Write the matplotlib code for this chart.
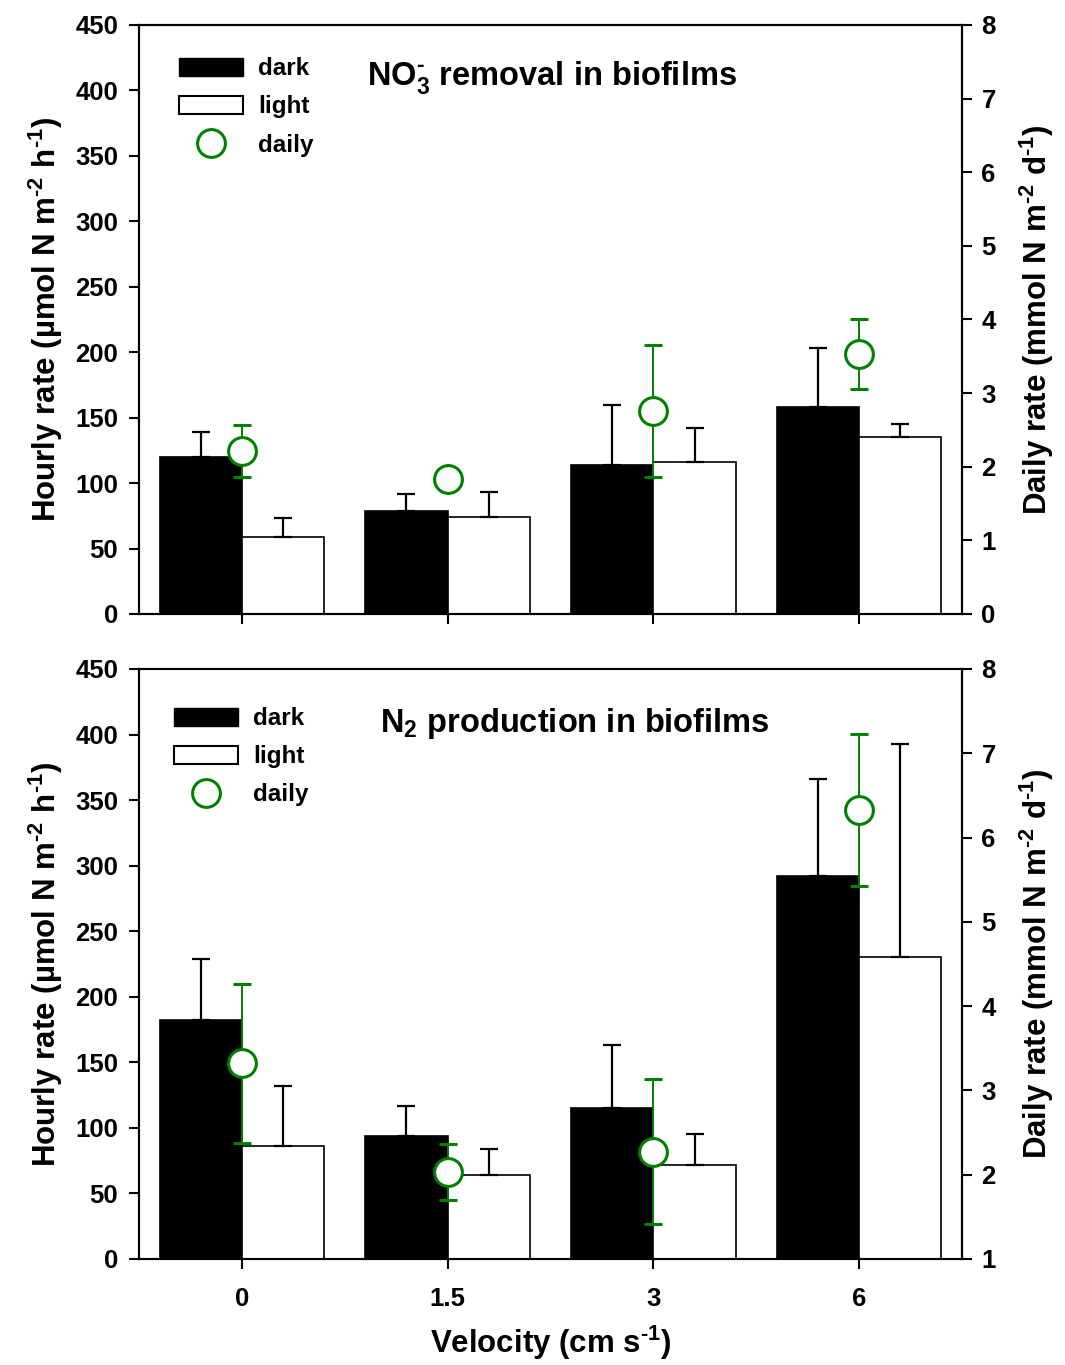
import matplotlib
matplotlib.use("Agg")
import matplotlib.pyplot as plt
import numpy as np
from matplotlib.patches import Patch
from matplotlib.lines import Line2D

plt.rcParams['font.family'] = ['Liberation Sans', 'DejaVu Sans']
plt.rcParams['font.weight'] = 'bold'
plt.rcParams['mathtext.fontset'] = 'custom'
plt.rcParams['mathtext.rm'] = 'Liberation Sans:bold'
plt.rcParams['mathtext.bf'] = 'Liberation Sans:bold'
plt.rcParams['mathtext.it'] = 'Liberation Sans:bold'
plt.rcParams['mathtext.default'] = 'rm'

velocity_labels = ['0', '1.5', '3', '6']

# NO3- removal
no3_dark = [120, 79, 114, 158]
no3_dark_err = [19, 13, 46, 45]
no3_light = [59, 74, 116, 135]
no3_light_err = [14, 19.5, 26, 10.5]
no3_daily = [2.21, 1.84, 2.76, 3.53]
no3_daily_err = [0.35, 0.12, 0.9, 0.47]

# N2 production
n2_dark = [182, 94, 115, 292]
n2_dark_err = [47, 23, 48, 74]
n2_light = [86, 64, 72, 230]
n2_light_err = [46, 20, 23.5, 163]
n2_daily = [3.32, 2.03, 2.27, 6.33]
n2_daily_err = [0.94, 0.33, 0.86, 0.9]

fig = plt.figure(figsize=(10.65, 13.65), dpi=100)
green = '#008000'
x = np.arange(len(velocity_labels))
w = 0.4
TICK = 18.5
LAB = 22.5
LEG = 17.5

def panel(rect, dark, dark_err, light, light_err, daily, daily_err, title, daily_lim, daily_ticks, show_x, legend_anchor, title_pos):
    ax = fig.add_axes(rect)
    ekw = dict(elinewidth=1.6, capthick=1.6, ecolor='black')
    ax.bar(x - w/2, dark, w, color='black', edgecolor='black', linewidth=1.2,
           yerr=[np.zeros(len(dark)), dark_err], capsize=6.5, error_kw=ekw, zorder=2)
    ax.bar(x + w/2, light, w, color='white', edgecolor='black', linewidth=1.2,
           yerr=[np.zeros(len(light)), light_err], capsize=6.5, error_kw=ekw, zorder=2)
    ax.set_xlim(-0.5, 3.5)
    ax.set_ylim(0, 450)
    ax.set_yticks(np.arange(0, 451, 50))
    ax.set_xticks(x)
    if show_x:
        ax.set_xticklabels(velocity_labels)
        ax.set_xlabel('Velocity (cm s$^{\\text{-1}}$)', fontsize=LAB, fontweight='bold', labelpad=9)
    else:
        ax.set_xticklabels([])
    ax.set_ylabel('Hourly rate (µmol N m$^{\\text{-2}}$ h$^{\\text{-1}}$)', fontsize=LAB,
                  fontweight='bold', labelpad=7)
    ax.tick_params(axis='y', direction='out', length=7, width=1.5, labelsize=TICK, pad=8)
    ax.tick_params(axis='x', direction='out', length=7, width=1.5, labelsize=TICK, pad=13)
    for s in ax.spines.values():
        s.set_linewidth(1.5)

    ax2 = ax.twinx()
    ax2.errorbar(x, daily, yerr=daily_err, fmt='o', ms=20, mfc='white', mec=green, mew=2.2,
                 ecolor=green, elinewidth=1.4, capsize=6.5, capthick=1.4, zorder=5)
    ax2.set_ylim(*daily_lim)
    ax2.set_yticks(daily_ticks)
    ax2.set_ylabel('Daily rate (mmol N m$^{\\text{-2}}$ d$^{\\text{-1}}$)', fontsize=LAB,
                   fontweight='bold', labelpad=16)
    ax2.tick_params(axis='y', direction='out', length=7, width=1.5, labelsize=TICK, pad=7)
    for s in ax2.spines.values():
        s.set_linewidth(1.5)

    handles = [Patch(facecolor='black', edgecolor='black'),
               Patch(facecolor='white', edgecolor='black', linewidth=1.5),
               Line2D([], [], ls='none', marker='o', ms=20, mfc='white', mec=green, mew=2.2)]
    ax2.legend(handles, ['dark', 'light', 'daily'], loc='upper left', bbox_to_anchor=legend_anchor,
               frameon=False, fontsize=LEG, handlelength=2.65, handleheight=0.72,
               handletextpad=0.62, labelspacing=0.62, borderaxespad=0, borderpad=0)
    ax2.text(title_pos[0], title_pos[1], title, transform=ax2.transAxes, fontsize=LAB + 1,
             fontweight='bold', ha='left', va='baseline')
    return ax, ax2

panel([0.1305, 0.5502, 0.7728, 0.4315], no3_dark, no3_dark_err, no3_light, no3_light_err,
      no3_daily, no3_daily_err, 'NO$_3^{\\text{-}}$ removal in biofilms', (0, 8), np.arange(0, 9, 1),
      False, (0.0486, 0.945), (0.277, 0.898))
panel([0.1305, 0.0777, 0.7728, 0.4322], n2_dark, n2_dark_err, n2_light, n2_light_err,
      n2_daily, n2_daily_err, 'N$_2$ production in biofilms', (1, 8), np.arange(1, 9, 1),
      True, (0.0425, 0.935), (0.293, 0.893))

fig.savefig('out.png', dpi=100)
